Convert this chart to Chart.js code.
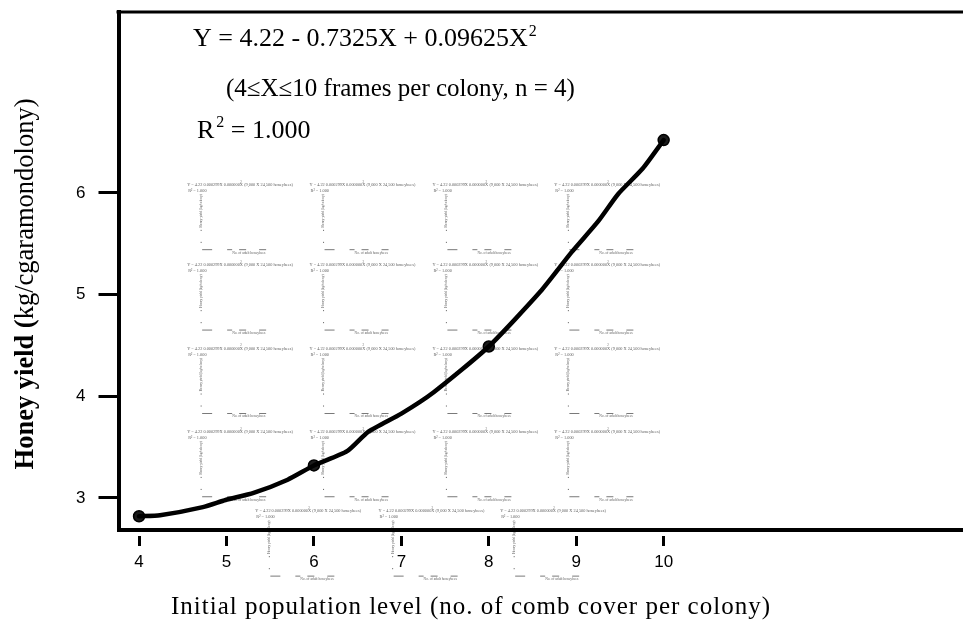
<!DOCTYPE html>
<html><head><meta charset="utf-8">
<script src="https://cdn.jsdelivr.net/npm/chart.js@4.4.1/dist/chart.umd.min.js"></script>
<style>html,body{margin:0;padding:0;background:#fff;overflow:hidden;width:963px;height:624px}</style>
</head><body>
<canvas id="c" width="971" height="624" style="display:block"></canvas>
<script>
// ---- data ----
const xTicks = [4, 5, 6, 7, 8, 9, 10];
const yTicks = [3, 4, 5, 6];
const colonySize = [4, 6, 8, 10];
const honeyYield = [2.82, 3.32, 4.49, 6.52];
const curveX = [4.00, 4.24, 4.73, 4.99, 5.31, 5.70, 6.00, 6.38, 6.62, 7.00, 7.37, 8.00, 8.59, 8.95, 9.25, 9.48, 9.76, 10.00];
const curveY = [2.82, 2.83, 2.91, 2.98, 3.05, 3.18, 3.32, 3.46, 3.65, 3.83, 4.04, 4.49, 5.03, 5.42, 5.72, 5.99, 6.24, 6.52];
// faint repeated mini-panels (anchors in data units)
const ghostColX = [4.55, 5.95, 7.355, 8.75];
const ghostRowY = [6.08, 5.29, 4.47, 3.65];
const ghostBottomX = [5.33, 6.74, 8.13];
const ghostBottomY = 2.87;

const SERIF = '"Liberation Serif", "Times New Roman", serif';
const SANS = '"Liberation Sans", Arial, sans-serif';

function drawGhost(ctx, x0, y0) {
  ctx.save();
  ctx.fillStyle = 'rgba(0,0,0,0.66)';
  ctx.textBaseline = 'middle';
  ctx.textAlign = 'left';
  ctx.font = '4.3px ' + SERIF;
  ctx.fillText('Y = 4.22 0.000299X 0.000000X', x0, y0);
  ctx.font = '3px ' + SERIF;
  ctx.fillText('2', x0 + 53, y0 - 3);
  ctx.font = '4.3px ' + SERIF;
  ctx.fillText('(9,000 X 24,500 honeybees)', x0 + 57, y0);
  ctx.fillText('R\u00B2 = 1.000', x0 + 1, y0 + 6);
  ctx.save();
  ctx.translate(x0 + 14, y0 + 26);
  ctx.rotate(-Math.PI / 2);
  ctx.textAlign = 'center';
  ctx.font = '3.4px ' + SERIF;
  ctx.fillText('Honey yield (kg/colony)', 0, 0);
  ctx.restore();
  ctx.fillRect(x0 + 13.5, y0 + 45, 1, 1);
  ctx.fillRect(x0 + 13.5, y0 + 57, 1, 1);
  [[15, 25], [40, 45], [52, 59], [72, 79]].forEach(([a, b]) => ctx.fillRect(x0 + a, y0 + 64.5, b - a, 0.8));
  ctx.font = '3.6px ' + SERIF;
  ctx.fillText('No. of adult honeybees', x0 + 45, y0 + 68);
  ctx.restore();
}

const decor = {
  id: 'decor',
  beforeDraw(chart) {
    const c = chart.ctx;
    c.save(); c.fillStyle = '#fff'; c.fillRect(0, 0, chart.width, chart.height); c.restore();
  },
  beforeDatasetsDraw(chart) {
    const c = chart.ctx, xs = chart.scales.x, ys = chart.scales.y;
    ghostRowY.forEach(r => ghostColX.forEach(cx => drawGhost(c, xs.getPixelForValue(cx), ys.getPixelForValue(r))));
    ghostBottomX.forEach(cx => drawGhost(c, xs.getPixelForValue(cx), ys.getPixelForValue(ghostBottomY)));
  },
  afterDraw(chart) {
    const c = chart.ctx, a = chart.chartArea;
    c.save();
    // top frame line
    c.strokeStyle = '#000'; c.lineWidth = 3;
    c.beginPath(); c.moveTo(a.left - 2, a.top); c.lineTo(chart.width, a.top); c.stroke();
    c.fillStyle = '#000';
    c.textBaseline = 'alphabetic'; c.textAlign = 'left';
    // equation
    c.font = '26px ' + SERIF;
    const eq = 'Y = 4.22 - 0.7325X + 0.09625X';
    c.fillText(eq, 193, 46);
    const w1 = c.measureText(eq).width;
    c.font = '16px ' + SERIF;
    c.fillText('2', 193 + w1 + 1, 36);
    c.font = '25px ' + SERIF;
    c.fillText('(4\u2264X\u226410 frames per colony, n = 4)', 226, 96);
    c.font = '26px ' + SERIF;
    c.fillText('R', 197, 138);
    const wr = c.measureText('R').width;
    c.font = '16px ' + SERIF;
    c.fillText('2', 197 + wr + 2, 127);
    c.font = '26px ' + SERIF;
    c.fillText(' = 1.000', 197 + wr + 10, 138);
    // x title
    c.font = '25px ' + SERIF;
    c.textAlign = 'left';
    c.letterSpacing = '1px';
    const xt = 'Initial population level (no. of comb cover per colony)';
    const xw = c.measureText(xt).width;
    c.fillText(xt, 471 - xw / 2, 614);
    c.letterSpacing = '0px';
    // y title
    c.save();
    c.translate(33, 284);
    c.rotate(-Math.PI / 2);
    c.textAlign = 'left';
    const p1 = 'Honey yield (';
    const p2 = 'kg/cgaramondolony)';
    c.font = 'bold 26.5px ' + SERIF;
    const wb = c.measureText(p1).width;
    c.font = '26.5px ' + SERIF;
    const wn = c.measureText(p2).width;
    const start = -(wb + wn) / 2;
    c.font = 'bold 26.5px ' + SERIF;
    c.fillText(p1, start, 0);
    c.font = '26.5px ' + SERIF;
    c.fillText(p2, start + wb, 0);
    c.restore();
    c.restore();
  }
};

new Chart(document.getElementById('c'), {
  type: 'scatter',
  data: {
    datasets: [
      {
        data: curveX.map((x, i) => ({ x, y: curveY[i] })),
        showLine: true, borderColor: '#000', borderWidth: 4.5,
        pointRadius: 0, tension: 0.2, borderJoinStyle: 'round', borderCapStyle: 'round'
      },
      {
        data: colonySize.map((x, i) => ({ x, y: honeyYield[i] })),
        showLine: false, pointRadius: 5.5,
        pointBackgroundColor: '#1a1a1a', pointBorderColor: '#000', pointBorderWidth: 1.5
      }
    ]
  },
  options: {
    responsive: false, animation: false, events: [],
    layout: { padding: { top: 12, right: 0, left: 0, bottom: 0 } },
    plugins: { legend: { display: false }, tooltip: { enabled: false }, title: { display: false } },
    scales: {
      x: {
        type: 'linear', min: 3.765, max: 13.435,
        afterBuildTicks: s => { s.ticks = xTicks.map(v => ({ value: v })); },
        afterFit: s => { s.height = 94; s.paddingLeft = 0; s.paddingRight = 0; },
        border: { display: true, color: '#000', width: 4 },
        grid: { display: true, drawOnChartArea: false, drawTicks: true, tickLength: 16, tickWidth: 3, tickColor: '#000', tickBorderDash: [0, 4, 12, 40] },
        ticks: { color: '#000', font: { family: SANS, size: 17 }, padding: 6, maxRotation: 0, autoSkip: false }
      },
      y: {
        type: 'linear', min: 2.685, max: 7.78,
        afterBuildTicks: s => { s.ticks = yTicks.map(v => ({ value: v })); },
        afterFit: s => { s.width = 118.5; s.paddingTop = 0; s.paddingBottom = 0; },
        border: { display: true, color: '#000', width: 4 },
        grid: { display: true, drawOnChartArea: false, drawTicks: true, tickLength: 20, tickWidth: 3, tickColor: '#000' },
        ticks: { color: '#000', font: { family: SANS, size: 17 }, padding: 13, autoSkip: false }
      }
    }
  },
  plugins: [decor]
});
</script>
</body></html>
